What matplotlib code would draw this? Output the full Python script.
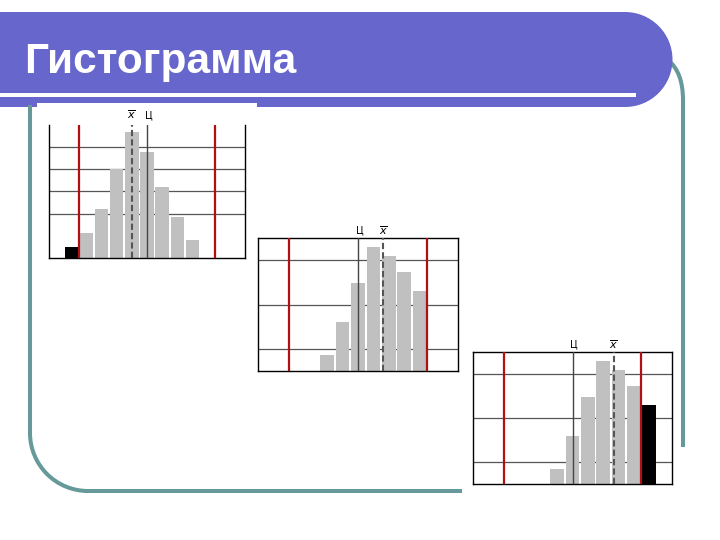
import matplotlib.pyplot as plt
from matplotlib.patches import Rectangle, Circle, Arc, PathPatch
from matplotlib.path import Path

# --- data (bin positions relative to the tolerance centre "Ц") ---
TITLE = "Гистограмма"
TOL_LOW, TOL_HIGH = -4.5, 4.5

bins1 = [-5, -4, -3, -2, -1, 0, 1, 2, 3]
heights1 = [0.5, 1.15, 2.2, 4.0, 5.7, 4.8, 3.2, 1.85, 0.8]
mean1 = -1.0
grid1 = [2, 3, 4, 5]

bins2 = [-2, -1, 0, 1, 2, 3, 4]
heights2 = [0.7, 2.2, 3.95, 5.6, 5.2, 4.45, 3.6]
mean2 = 1.65
grid2 = [1, 3, 5]

bins3 = [-1, 0, 1, 2, 3, 4, 5]
heights3 = [0.7, 2.2, 3.95, 5.6, 5.2, 4.45, 3.6]
mean3 = 2.7
grid3 = [1, 3, 5]

W, H = 720, 540
PURPLE = "#6666cc"
TEAL = "#669999"
RED = "#b01010"
GRAY = "#c0c0c0"
DARK = "#444444"


def px_axes(fig, x0, y0, x1, y1):
    return fig.add_axes([x0 / W, (H - y1) / H, (x1 - x0) / W, (y1 - y0) / H])


def draw_hist(ax, bins, heights, mean, grid, top_spine=True, labels_y=6.35):
    for g in grid:
        ax.axhline(g, color="#555555", lw=0.9, zorder=0)
    colors = ["black" if (b < TOL_LOW or b > TOL_HIGH) else GRAY for b in bins]
    ax.bar(bins, heights, width=0.88, color=colors, zorder=2)
    ax.axvline(TOL_LOW, color=RED, lw=1.6, zorder=3)
    ax.axvline(TOL_HIGH, color=RED, lw=1.6, zorder=3)
    ax.axvline(0, color=DARK, lw=1.0, zorder=3)
    ax.axvline(mean, color="#555555", lw=1.5, ls=(0, (3, 1.5)), zorder=4)
    ax.set_xlim(-6.5, 6.5)
    ax.set_ylim(0, 6)
    ax.set_xticks([])
    ax.set_yticks([])
    for s in ax.spines.values():
        s.set_linewidth(1.0)
        s.set_color("black")
    if not top_spine:
        ax.spines["top"].set_visible(False)
    ax.text(0.1, labels_y, "Ц", ha="center", va="center", fontsize=7,
            clip_on=False)
    ax.text(mean, labels_y, r"$\overline{x}$", ha="center", va="center",
            fontsize=8, clip_on=False)


def main():
    fig = plt.figure(figsize=(W / 100, H / 100), dpi=100)

    # slide decoration in pixel coordinates
    bg = fig.add_axes([0, 0, 1, 1])
    bg.set_xlim(0, W)
    bg.set_ylim(H, 0)
    bg.axis("off")

    lw_frame = 2.9
    bg.plot([30, 30], [105, 433], color=TEAL, lw=lw_frame, solid_capstyle="butt")
    bg.add_patch(Arc((88, 433), 116, 116, theta1=90, theta2=180, color=TEAL,
                     lw=lw_frame))
    bg.plot([88, 462], [491, 491], color=TEAL, lw=lw_frame, solid_capstyle="butt")
    right = Path([(668, 60), (683, 72), (683, 100), (683, 447)],
                 [Path.MOVETO, Path.CURVE3, Path.CURVE3, Path.LINETO])
    bg.add_patch(PathPatch(right, fill=False, edgecolor=TEAL, lw=lw_frame))

    bg.add_patch(Rectangle((-10, 12), 635, 95, color=PURPLE, lw=0))
    bg.add_patch(Circle((625, 59.5), 47.5, color=PURPLE, lw=0))
    bg.add_patch(Rectangle((-10, 93), 646, 3.5, color="white", lw=0))
    bg.add_patch(Rectangle((37, 103), 220, 165, color="white", lw=0))

    bg.text(24, 73, TITLE, color="white", fontsize=30.5, fontweight="bold",
            family="Liberation Sans", va="baseline", ha="left")

    ax1 = px_axes(fig, 49, 125, 245, 258)
    draw_hist(ax1, bins1, heights1, mean1, grid1, top_spine=False, labels_y=6.45)

    ax2 = px_axes(fig, 258, 238, 458, 371)
    draw_hist(ax2, bins2, heights2, mean2, grid2)

    ax3 = px_axes(fig, 473, 352, 672, 484)
    draw_hist(ax3, bins3, heights3, mean3, grid3)

    fig.savefig("out.png", dpi=100)


if __name__ == "__main__":
    main()
